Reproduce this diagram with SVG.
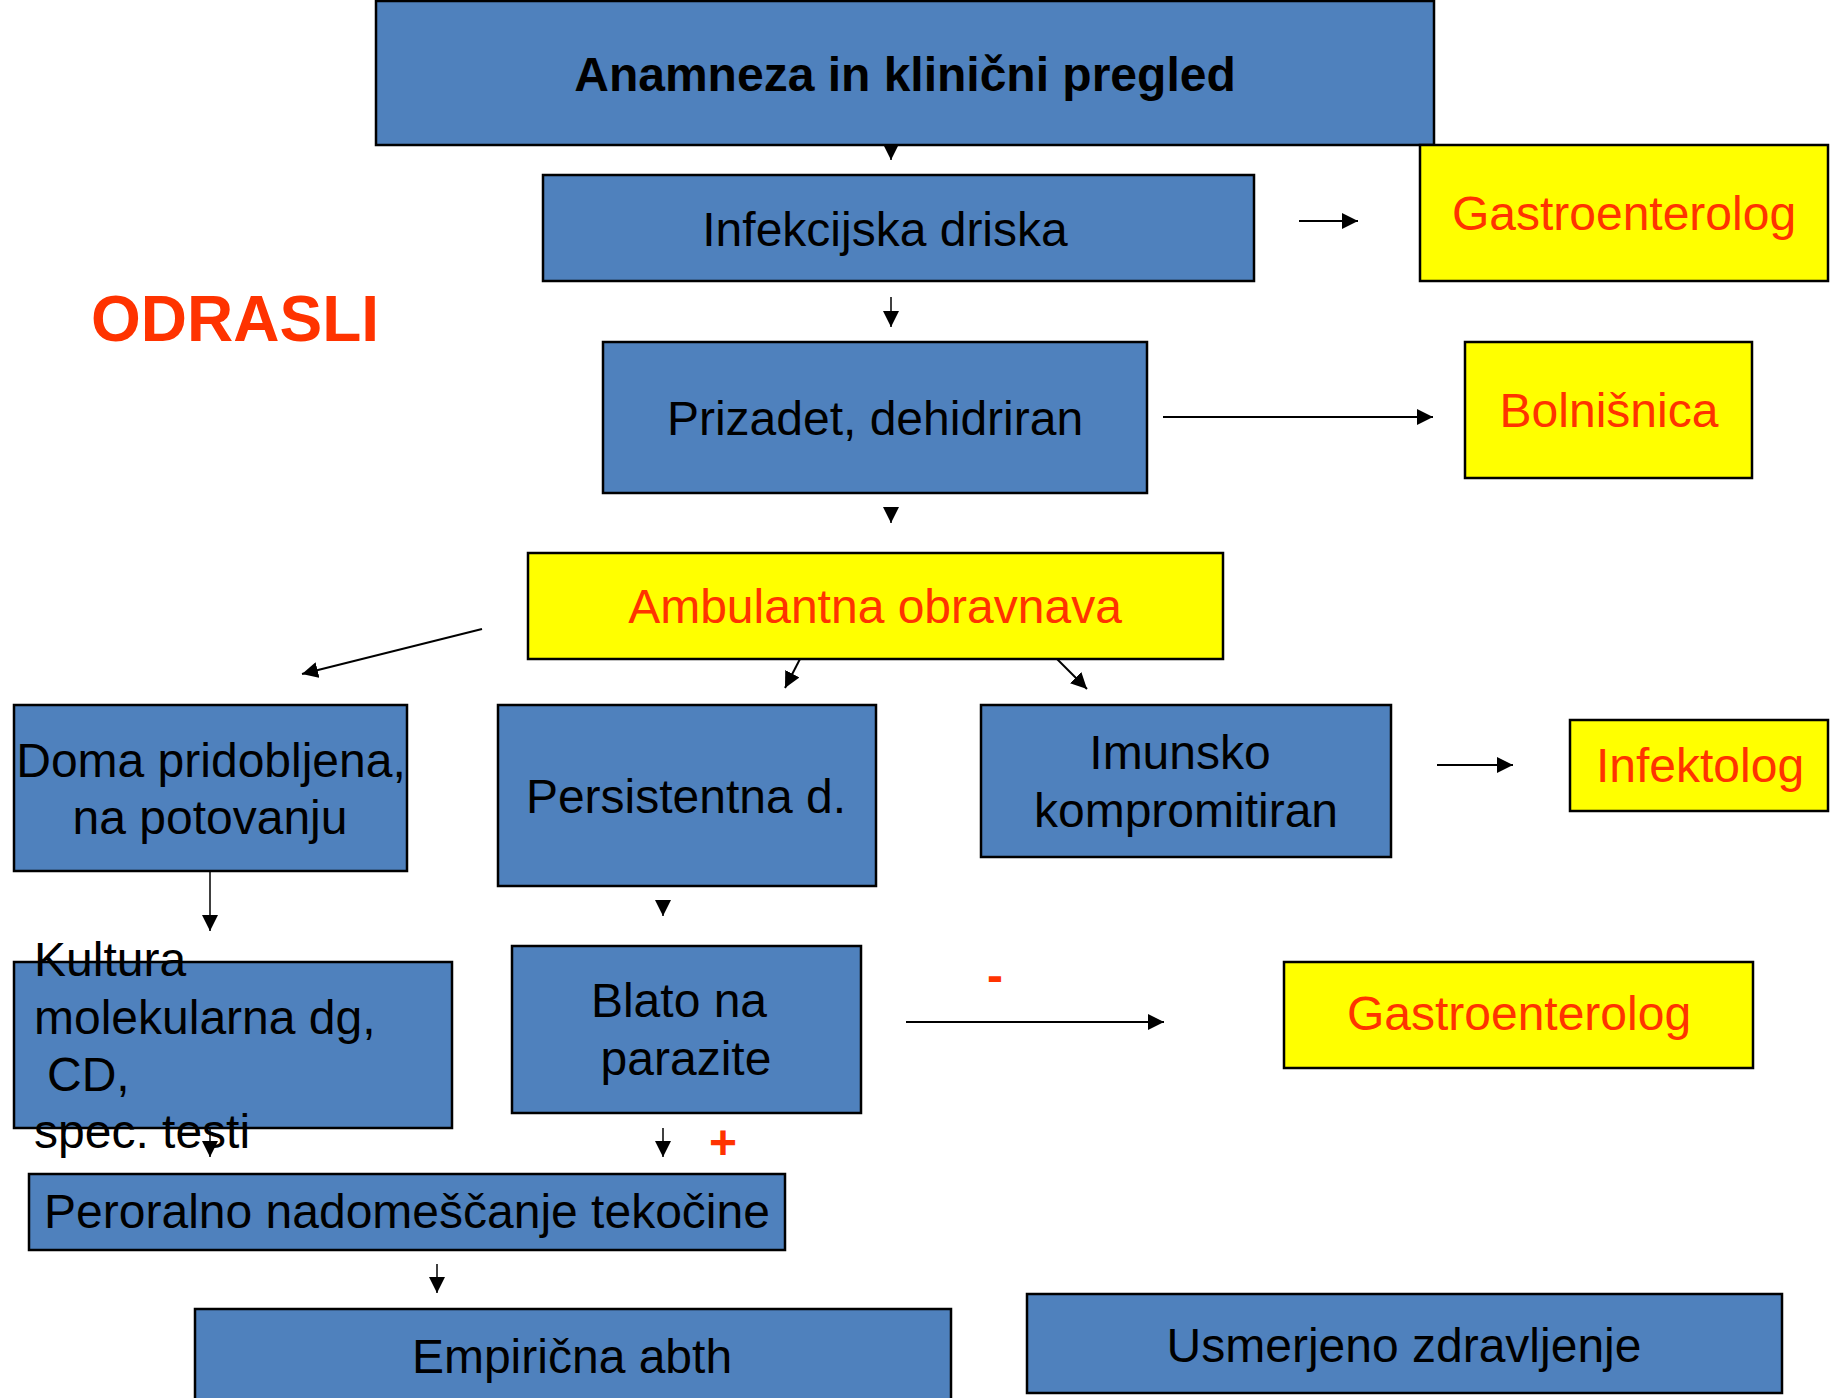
<svg xmlns="http://www.w3.org/2000/svg" width="1839" height="1398" viewBox="0 0 1839 1398">
<style>
  .blue { fill: #4F81BD; stroke: #000; stroke-width: 2.5; }
  .yellow { fill: #FFFF00; stroke: #000; stroke-width: 2.5; }
  text { font-family: "Liberation Sans", Arial, sans-serif; font-size: 48px; fill: #000; }
  .red { fill: #FF3300; }
  .b { font-weight: bold; }
  .m { text-anchor: middle; }
  .conn line { stroke: #000; stroke-width: 2; marker-end: url(#ah); }
  .conn line.thin { stroke-width: 1.5; }
</style>
<defs>
  <marker id="ah" markerUnits="userSpaceOnUse" markerWidth="16" markerHeight="16" refX="15" refY="7.5" orient="auto" viewBox="0 0 15 15">
    <path d="M0,0 L15,7.5 L0,15 z" fill="#000"/>
  </marker>
</defs>
<rect width="1839" height="1398" fill="#fff"/>

<text id="title-odrasli" class="red b" x="91" y="341" style="font-size:64px">ODRASLI</text>

<g id="n-anamneza">
  <rect class="blue" x="376" y="1" width="1058" height="144"/>
  <text class="b m" x="905" y="91" style="font-size:48px">Anamneza in klinični pregled</text>
</g>
<g id="n-infekcijska">
  <rect class="blue" x="543" y="175" width="711" height="106"/>
  <text class="m" x="885" y="246">Infekcijska driska</text>
</g>
<g id="n-gastro1">
  <rect class="yellow" x="1420" y="145" width="408" height="136"/>
  <text class="m red" x="1624" y="230">Gastroenterolog</text>
</g>
<g id="n-prizadet">
  <rect class="blue" x="603" y="342" width="544" height="151"/>
  <text class="m" x="875" y="435">Prizadet, dehidriran</text>
</g>
<g id="n-bolnisnica">
  <rect class="yellow" x="1465" y="342" width="287" height="136"/>
  <text class="m red" x="1609" y="427">Bolnišnica</text>
</g>
<g id="n-ambulantna">
  <rect class="yellow" x="528" y="553" width="695" height="106"/>
  <text class="m red" x="875" y="623">Ambulantna obravnava</text>
</g>
<g id="n-doma">
  <rect class="blue" x="14" y="705" width="393" height="166"/>
  <text class="m" x="211" y="777">Doma pridobljena,</text>
  <text class="m" x="210" y="834">na potovanju</text>
</g>
<g id="n-persistentna">
  <rect class="blue" x="498" y="705" width="378" height="181"/>
  <text class="m" x="686" y="813">Persistentna d.</text>
</g>
<g id="n-imunsko">
  <rect class="blue" x="981" y="705" width="410" height="152"/>
  <text class="m" x="1180" y="769">Imunsko</text>
  <text class="m" x="1186" y="827">kompromitiran</text>
</g>
<g id="n-infektolog">
  <rect class="yellow" x="1570" y="720" width="258" height="91"/>
  <text class="m red" x="1700" y="782">Infektolog</text>
</g>
<g id="n-kultura">
  <rect class="blue" x="14" y="962" width="438" height="166"/>
  <text x="34" y="976">Kultura</text>
  <text x="34" y="1034">molekularna dg,</text>
  <text x="47" y="1091">CD,</text>
  <text x="34" y="1148">spec. testi</text>
</g>
<g id="n-blato">
  <rect class="blue" x="512" y="946" width="349" height="167"/>
  <text class="m" x="679" y="1017">Blato na</text>
  <text class="m" x="686" y="1075">parazite</text>
</g>
<g id="n-gastro2">
  <rect class="yellow" x="1284" y="962" width="469" height="106"/>
  <text class="m red" x="1519" y="1030">Gastroenterolog</text>
</g>
<g id="n-peroralno">
  <rect class="blue" x="29" y="1174" width="756" height="76"/>
  <text class="m" x="407" y="1228">Peroralno nadomeščanje tekočine</text>
</g>
<g id="n-empiricna">
  <rect class="blue" x="195" y="1309" width="756" height="95"/>
  <text class="m" x="572" y="1373">Empirična abth</text>
</g>
<g id="n-usmerjeno">
  <rect class="blue" x="1027" y="1294" width="755" height="99"/>
  <text class="m" x="1404" y="1362">Usmerjeno zdravljenje</text>
</g>

<g id="connectors" class="conn">
  <line class="thin" x1="891" y1="145" x2="891" y2="160"/>
  <line x1="1299" y1="221" x2="1358" y2="221"/>
  <line class="thin" x1="891" y1="297" x2="891" y2="327"/>
  <line x1="1163" y1="417" x2="1433" y2="417"/>
  <line class="thin" x1="891" y1="508" x2="891" y2="523"/>
  <line x1="482" y1="629" x2="302" y2="674"/>
  <line x1="800" y1="659" x2="785" y2="688"/>
  <line x1="1057" y1="659" x2="1087" y2="689"/>
  <line class="thin" x1="210" y1="872" x2="210" y2="931"/>
  <line class="thin" x1="663" y1="901" x2="663" y2="916"/>
  <line x1="1437" y1="765" x2="1513" y2="765"/>
  <line x1="906" y1="1022" x2="1164" y2="1022"/>
  <line class="thin" x1="210" y1="1128" x2="210" y2="1157"/>
  <line class="thin" x1="663" y1="1128" x2="663" y2="1157"/>
  <line class="thin" x1="437" y1="1264" x2="437" y2="1293"/>
</g>

<text id="label-minus" class="red b m" x="995" y="992" style="font-size:48px">-</text>
<text id="label-plus" class="red b m" x="723" y="1159" style="font-size:48px">+</text>
</svg>
